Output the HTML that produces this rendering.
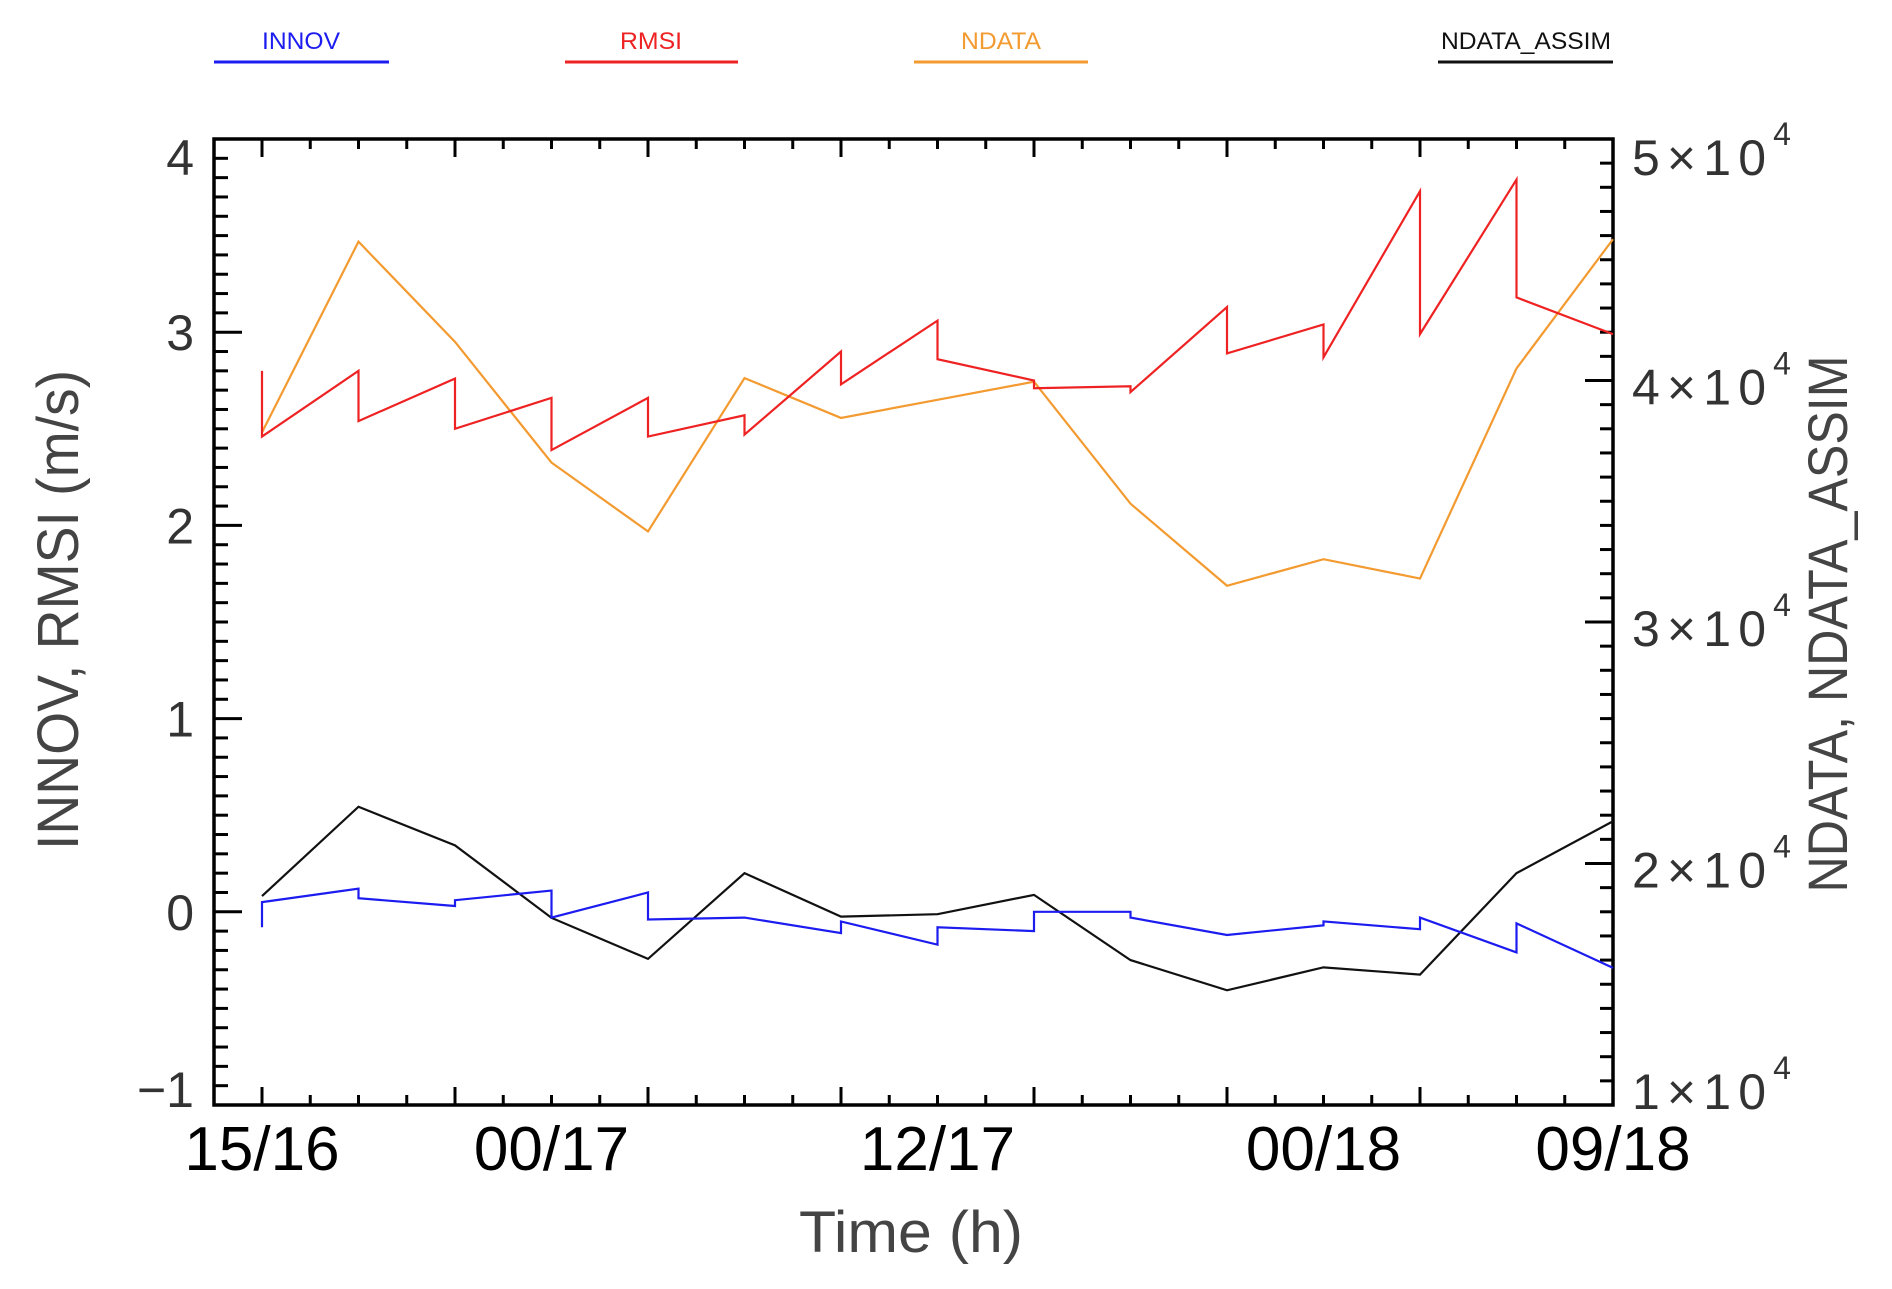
<!DOCTYPE html>
<html><head><meta charset="utf-8"><style>
html,body{margin:0;padding:0;background:#fff;}
svg{display:block;}
text{font-family:"Liberation Sans",sans-serif;}
</style></head><body>
<svg id="chart" width="1892" height="1289" viewBox="0 0 1892 1289" xmlns="http://www.w3.org/2000/svg">
<g id="legend">
 <g><text x="301" y="49" text-anchor="middle" font-size="24" fill="#1c1cf0" textLength="78" lengthAdjust="spacingAndGlyphs">INNOV</text><line x1="214" y1="62" x2="389" y2="62" stroke="#1c1cf0" stroke-width="3"/></g>
 <g><text x="651" y="49" text-anchor="middle" font-size="24" fill="#ee2222" textLength="62" lengthAdjust="spacingAndGlyphs">RMSI</text><line x1="565" y1="62" x2="738" y2="62" stroke="#ee2222" stroke-width="3"/></g>
 <g><text x="1001" y="49" text-anchor="middle" font-size="24" fill="#f39a30" textLength="80" lengthAdjust="spacingAndGlyphs">NDATA</text><line x1="914" y1="62" x2="1088" y2="62" stroke="#f39a30" stroke-width="3"/></g>
 <g><text x="1526" y="49" text-anchor="middle" font-size="24" fill="#111" textLength="170" lengthAdjust="spacingAndGlyphs">NDATA_ASSIM</text><line x1="1438" y1="62" x2="1613" y2="62" stroke="#111" stroke-width="3"/></g>
</g>
<g id="axes"></g>
<g id="series"></g>
<text transform="translate(78,610) rotate(-90)" text-anchor="middle" font-size="58" fill="#444" textLength="480" lengthAdjust="spacingAndGlyphs">INNOV, RMSI (m/s)</text>
<text transform="translate(1847,624) rotate(-90)" text-anchor="middle" font-size="56" fill="#444" textLength="537" lengthAdjust="spacingAndGlyphs">NDATA, NDATA_ASSIM</text>
<text x="911" y="1252" text-anchor="middle" font-size="58" fill="#444" textLength="224" lengthAdjust="spacingAndGlyphs">Time (h)</text>
</svg>
<script>
// data (points every 3 h starting 15/16)
const hours = [0,3,6,9,12,15,18,21,24,27,30,33,36,39,42];
const rmsiEnd   = [2.80,2.80,2.76,2.66,2.66,2.57,2.90,3.06,2.75,2.72,3.13,3.04,3.73,3.79,2.99];
const rmsiStart = [2.46,2.54,2.50,2.39,2.46,2.47,2.73,2.86,2.71,2.69,2.89,2.87,2.99,3.18];
const innovEnd   = [-0.08,0.12,0.03,0.11,0.10,-0.03,-0.11,-0.17,-0.10,0.00,-0.12,-0.07,-0.09,-0.21,-0.29];
const innovStart = [0.05,0.07,0.06,-0.03,-0.04,-0.03,-0.05,-0.08,0.00,-0.03,-0.12,-0.05,-0.03,-0.06];
const ndata      = [37850,45750,41600,36600,33750,40100,38450,39200,39950,34900,31500,32600,31800,40500,45850];
const ndataAssim = [18650,22350,20750,17750,16050,19600,17800,17900,18700,16000,14750,15700,15400,19600,21750];
const leftTicks  = [4,3,2,1,0,-1];
const leftTickLabels = ["4","3","2","1","0","\u22121"];
const rightTicks = [50000,40000,30000,20000,10000];
const rightTickLabels = ["5","4","3","2","1"];
const xLabelHours = [0,9,21,33,42];
const xLabels = ["15/16","00/17","12/17","00/18","09/18"];

const NS="http://www.w3.org/2000/svg";
const L=214,R=1613,T=139,B=1105;
const X0=262, X1=1613;
const x = h => X0 + (h-0)/(42-0)*(X1-X0);
const yL = v => B - (v-(-1))/(4-(-1))*(B-T);
const yR = n => B - (n-10000)/(50000-10000)*(B-T);
function mk(tag,attrs,parent){const e=document.createElementNS(NS,tag);for(const k in attrs)e.setAttribute(k,attrs[k]);parent.appendChild(e);return e;}
const axes=document.getElementById('axes');
const series=document.getElementById('series');

const fr=mk('rect',{x:L,y:T,width:R-L,height:B-T,fill:'none',stroke:'#000','stroke-width':3.5},axes);



for(let h=0;h<=42.001;h+=1.5){
  const px=x(h); const major=Math.abs(h/6-Math.round(h/6))<1e-6;
  const len=major?18:10;
  const t1=mk('line',{x1:px,y1:B,x2:px,y2:B-len,stroke:'#000','stroke-width':3},axes);
  
  
  const t2=mk('line',{x1:px,y1:T,x2:px,y2:T+len,stroke:'#000','stroke-width':3},axes);
  
  
}
xLabelHours.forEach((h,i)=>{
  const t=mk('text',{x:x(h),y:1170,'text-anchor':'middle','font-size':62,fill:'#000'},axes);
  t.textContent=xLabels[i];
  
  
});
for(let k=0;k<=50;k++){
  const v=-1+k*0.1; const major=k%10===0;
  const ln=mk('line',{x1:L,y1:yL(v),x2:L+(major?28:14),y2:yL(v),stroke:'#000','stroke-width':3},axes);
  
  
}
leftTicks.forEach((v,i)=>{
  let off=18; if(i===0) off=36; if(i===leftTicks.length-1) off=2;
  const t=mk('text',{x:194,y:yL(v)+off,'text-anchor':'end','font-size':50,fill:'#333'},axes);
  t.textContent=leftTickLabels[i];
  
  
});
for(let k=0;k<=40;k++){
  const n=10000+k*1000; const major=k%10===0;
  const ln=mk('line',{x1:R,y1:yR(n),x2:R-(major?28:13),y2:yR(n),stroke:'#000','stroke-width':3},axes);
  
  
}
rightTicks.forEach((n,i)=>{
  let off=24; if(i===0) off=36; if(i===rightTicks.length-1) off=4;
  const t=mk('text',{x:1632,y:yR(n)+off,'font-size':50,fill:'#333'},axes);
  const a=mk('tspan',{textLength:134,lengthAdjust:'spacing'},t);
  a.textContent=rightTickLabels[i]+"\u00d710";
  const s=mk('tspan',{dy:-30,'font-size':32},t);
  s.textContent="4";
  
  
});

function saw(endArr,startArr,color,name){
  let d='M'+x(hours[0])+','+yL(endArr[0]);
  for(let i=0;i<startArr.length;i++){
    d+=' L'+x(hours[i])+','+yL(startArr[i]);
    d+=' L'+x(hours[i+1])+','+yL(endArr[i+1]);
  }
  const p=mk('path',{d:d,fill:'none',stroke:color,'stroke-width':2.2,'stroke-linejoin':'miter'},series);
  
  
}
function line(arr,color,name){
  const pts=arr.map((n,i)=>x(hours[i])+','+yR(n)).join(' ');
  const p=mk('polyline',{points:pts,fill:'none',stroke:color,'stroke-width':2.2},series);
  
  
}
line(ndata,'#f39a30','ndata-line');
line(ndataAssim,'#111','ndata-assim-line');
saw(rmsiEnd,rmsiStart,'#ee2222','rmsi-line');
saw(innovEnd,innovStart,'#1c1cf0','innov-line');
</script>
</body></html>
